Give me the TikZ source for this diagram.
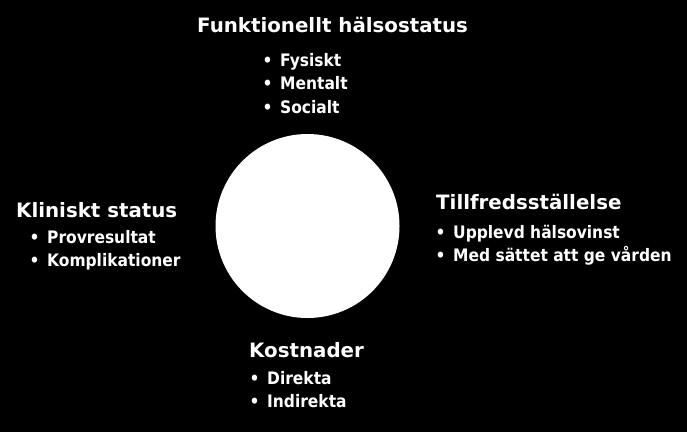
\documentclass[tikz,border=0pt]{standalone}
\usepackage{fontspec}
\usepackage{tikz}
\setmainfont{DejaVu Sans}
\newfontfamily\condfont{DejaVu Sans Condensed}

\tikzset{
  heading/.style={text=white, inner sep=0pt, anchor=base west,
    font=\fontsize{19.8}{22}\selectfont\bfseries},
  item/.style={text=white, inner sep=0pt, anchor=base west, xshift=-17.6pt,
    font=\condfont\fontsize{17.2}{19}\selectfont\bfseries,
    execute at begin node={\makebox[17.6pt][l]{•}}}
}

\begin{document}
\begin{tikzpicture}[x=1pt,y=-1pt]
                % Draw the black background
                \fill[black] (0,0) rectangle (687,432);
                % Draw the white circle in the middle
                \fill[white] (307.5,226) circle (92);
                \coordinate (centre) at (307.5,226);
                % Top group
                \node[heading] (funk) at (197,32) {Funktionellt hälsostatus};
                \foreach \txt/\y [count=\i] in {Fysiskt/66, Mentalt/89, Socialt/113}{
                    \node[item] (funk\i) at (280,\y) {\txt};
                }
                % Left group
                \node[heading] (klin) at (16,217) {Kliniskt status};
                \foreach \txt/\y [count=\i] in {Provresultat/243, Komplikationer/266}{
                    \node[item] (klin\i) at (47,\y) {\txt};
                }
                % Right group
                \node[heading] (tillf) at (436,209) {Tillfredsställelse};
                \foreach \txt/\y [count=\i] in {Upplevd hälsovinst/238, Med sättet att ge vården/261}{
                    \node[item] (tillf\i) at (453,\y) {\txt};
                }
                % Bottom group
                \node[heading] (kost) at (249,357) {Kostnader};
                \foreach \txt/\y [count=\i] in {Direkta/384, Indirekta/407}{
                    \node[item] (kost\i) at (267,\y) {\txt};
                }
\end{tikzpicture}
\end{document}
